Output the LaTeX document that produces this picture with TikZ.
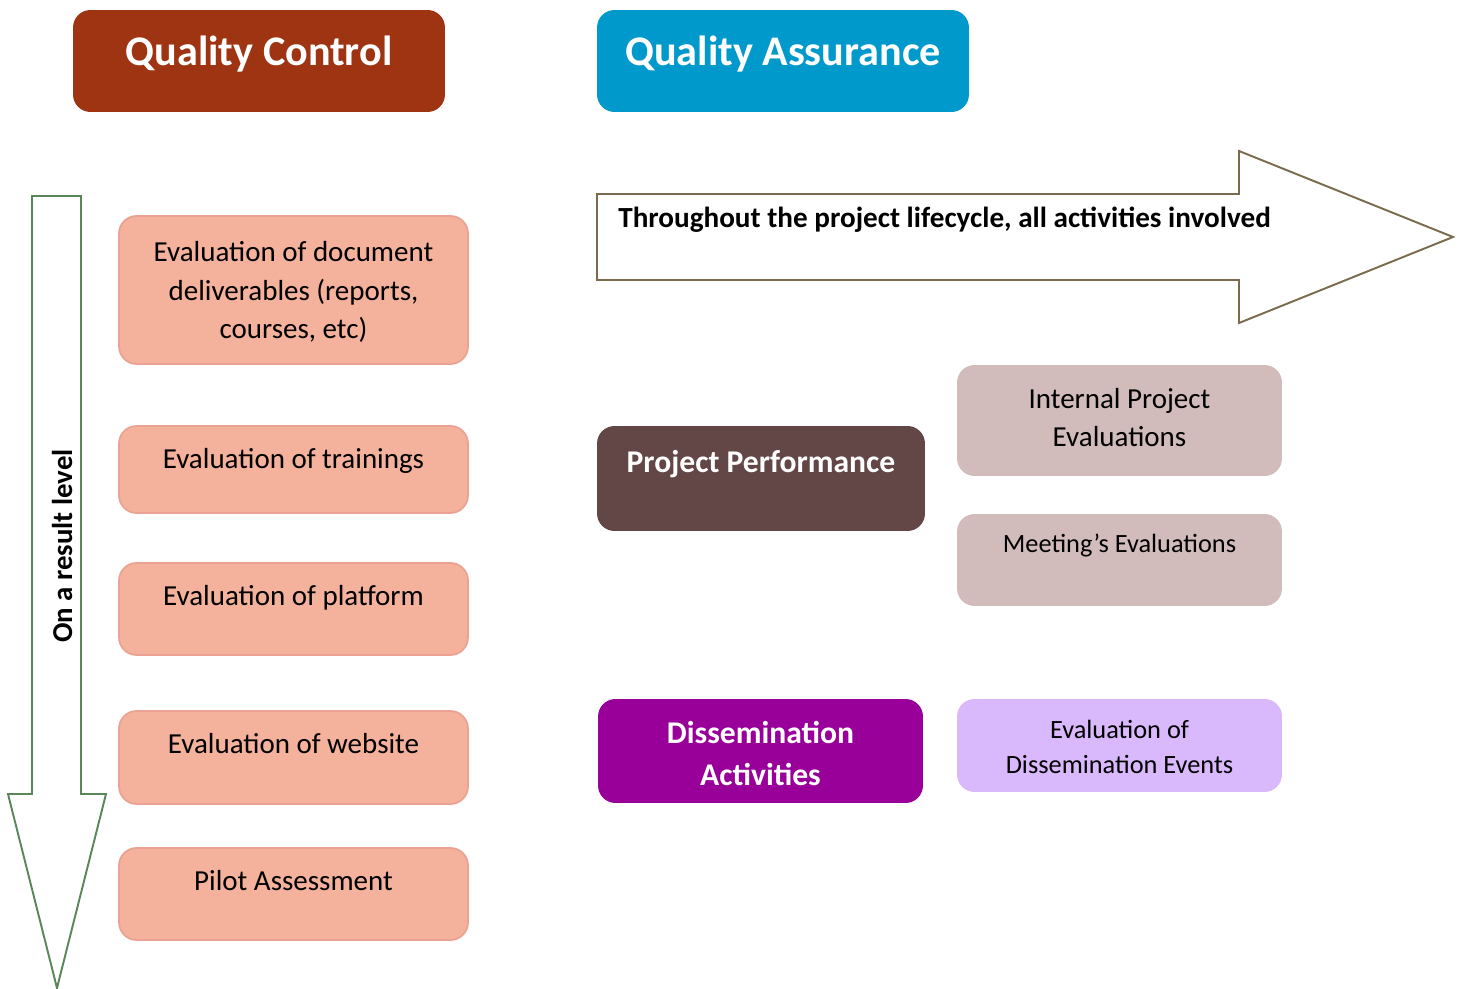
\documentclass[tikz,border=0pt]{standalone}
\usepackage{fontspec}
\setmainfont{Carlito}
\usepackage{tikz}
\usetikzlibrary{positioning}
\definecolor{qcred}{HTML}{9E3412}
\definecolor{qablue}{HTML}{0099CC}
\definecolor{salmon}{HTML}{F4B19B}
\definecolor{salmonline}{HTML}{EBA292}
\definecolor{perfbrown}{HTML}{634646}
\definecolor{perflight}{HTML}{D2BBBB}
\definecolor{dispurple}{HTML}{990099}
\definecolor{dislight}{HTML}{DAB8FC}
\definecolor{downgreen}{HTML}{5A875A}
\definecolor{rightbrown}{HTML}{7B6B4E}
\tikzset{>=latex}
\tikzset{
  headbox/.style = {rounded corners = 0.35cm, minimum width = 7.44cm, minimum height = 2.04cm, inner sep = 0},
  evalbox/.style = {draw = salmonline, fill = salmon, line width = 1pt, rounded corners = 0.35cm, minimum width = 6.98cm, inner sep = 0},
  rightbox/.style = {rounded corners = 0.35cm, minimum width = 6.5cm, inner sep = 0},
  headtxt/.style = {inner sep = 0, text = white, font = \fontsize{24pt}{28pt}\selectfont\bfseries},
  txt/.style = {inner sep = 0, align = center, font = \fontsize{16.5pt}{22pt}\selectfont},
  smalltxt/.style = {inner sep = 0, align = center, font = \fontsize{15pt}{20pt}\selectfont},
  boldtxt/.style = {inner sep = 0, align = center, text = white, font = \fontsize{18pt}{24pt}\selectfont\bfseries},
}

\begin{document}
\begin{tikzpicture}[x = 0.02cm, y = -0.02cm]
\useasboundingbox (0, 0) rectangle (1457, 989);

\node[headbox, fill = qcred] (qc) at (259, 61) {};
\node[headtxt, below = 0.52cm of qc.north] (qctxt) {Quality Control};
\node[headbox, fill = qablue] (qa) at (783, 61) {};
\node[headtxt, below = 0.52cm of qa.north] (qatxt) {Quality Assurance};

\draw[downgreen, line width = 1.1pt] (32, 196) -- (81, 196) -- (81, 794) -- (106, 794) -- (57, 988) -- (8, 794) -- (32, 794) -- cycle;
\node[rotate = 90, inner sep = 0, font = \fontsize{16.4pt}{20pt}\selectfont\bfseries] (level) at (62, 546) {On a result level};

\draw[rightbrown, line width = 1.1pt] (597, 194) -- (1239, 194) -- (1239, 151) -- (1453, 237) -- (1239, 323) -- (1239, 280) -- (597, 280) -- cycle;
\node[anchor = west, inner sep = 0, font = \fontsize{16.6pt}{20pt}\selectfont\bfseries] (life) at (618, 220) {Throughout the project lifecycle, all activities involved};

\node[evalbox, minimum height = 2.96cm] (doc) at (293.5, 290) {};
\node[txt, below = 0.52cm of doc.north] (doctxt) {Evaluation of document\\deliverables (reports,\\courses, etc)};
\node[evalbox, minimum height = 1.74cm] (train) at (293.5, 469.5) {};
\node[txt, below = 0.46cm of train.north] (traintxt) {Evaluation of trainings};
\node[evalbox, minimum height = 1.84cm] (plat) at (293.5, 609) {};
\node[txt, below = 0.46cm of plat.north] (plattxt) {Evaluation of platform};
\node[evalbox, minimum height = 1.86cm] (web) at (293.5, 757.5) {};
\node[txt, below = 0.46cm of web.north] (webtxt) {Evaluation of website};
\node[evalbox, minimum height = 1.84cm] (pilot) at (293.5, 894) {};
\node[txt, below = 0.46cm of pilot.north] (pilottxt) {Pilot Assessment};

\node[rightbox, fill = perfbrown, minimum width = 6.56cm, minimum height = 2.1cm] (perf) at (761, 478.5) {};
\node[boldtxt, below = 0.48cm of perf.north] (perftxt) {Project Performance};
\node[rightbox, fill = perflight, minimum height = 2.22cm] (internal) at (1119.5, 420.5) {};
\node[txt, below = 0.46cm of internal.north] (internaltxt) {Internal Project\\Evaluations};
\node[rightbox, fill = perflight, minimum height = 1.84cm] (meet) at (1119.5, 560) {};
\node[smalltxt, below = 0.4cm of meet.north] (meettxt) {Meeting’s Evaluations};

\node[rightbox, fill = dispurple, minimum height = 2.08cm] (dissem) at (760.5, 751) {};
\node[boldtxt, below = 0.44cm of dissem.north] (dissemtxt) {Dissemination\\Activities};
\node[rightbox, fill = dislight, minimum height = 1.86cm] (evdis) at (1119.5, 745.5) {};
\node[smalltxt, below = 0.42cm of evdis.north] (evdistxt) {Evaluation of\\Dissemination Events};
\end{tikzpicture}
\end{document}
